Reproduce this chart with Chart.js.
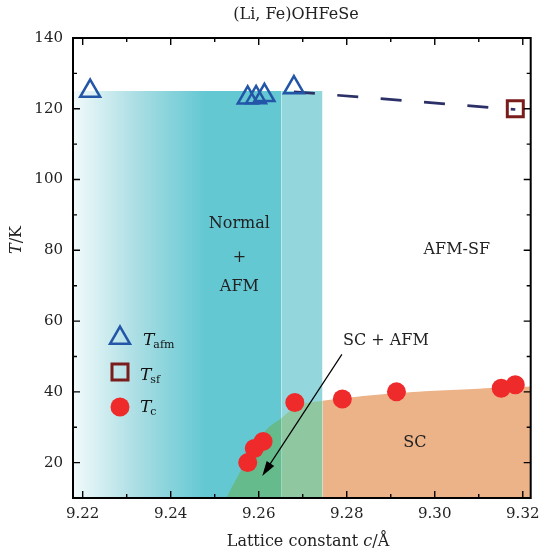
<!DOCTYPE html>
<html>
<head>
<meta charset="utf-8">
<script src="https://cdn.jsdelivr.net/npm/chart.js@4.4.1/dist/chart.umd.min.js"></script>
<style>
  html, body { margin: 0; padding: 0; background: #fff; }
</style>
</head>
<body>
<canvas id="myChart" width="545" height="557"></canvas>
<script>
// ---- data ----
const tafmC = [9.2217, 9.2575, 9.2594, 9.2613, 9.2680];
const tafmT = [125.0, 123.1, 123.2, 123.8, 126.0];

const tsfC = [9.3183];
const tsfT = [120.0];

const tcC = [9.2575, 9.2590, 9.2610, 9.2682, 9.2790, 9.2913, 9.3151, 9.3183];
const tcT = [20.0, 24.0, 26.0, 37.0, 38.0, 40.0, 41.0, 42.0];

// dashed guide from last T_afm to T_sf
const guideC = [9.2680, 9.3183];
const guideT = [124.8, 119.8];

// phase regions (top edge of each filled area)
const afmC = [9.2178, 9.2652];
const afmT = [125, 125];
const bandC = [9.2652, 9.2745];
const bandT = [125, 125];
const scAfmC = [9.2526, 9.2556, 9.2587, 9.2617, 9.2652];
const scAfmT = [10.0, 17.0, 23.5, 29.3, 32.6];
const scAfmBandC = [9.2652, 9.2685, 9.2715, 9.2745];
const scAfmBandT = [32.6, 36.0, 37.0, 37.5];
const scC = [9.2745, 9.2800, 9.2900, 9.3000, 9.3100, 9.3220];
const scT = [37.5, 38.3, 39.5, 40.3, 40.9, 41.5];

const xTicks = [9.22, 9.23, 9.24, 9.25, 9.26, 9.27, 9.28, 9.29, 9.30, 9.31, 9.32];
const yTicks = [10, 20, 30, 40, 50, 60, 70, 80, 90, 100, 110, 120, 130, 140];

const pts = (xs, ys) => xs.map((v, i) => ({ x: v, y: ys[i] }));

const SERIF = '"DejaVu Serif", serif';

function region(label, xs, ys, color, order) {
  return {
    label: label,
    data: pts(xs, ys),
    showLine: true,
    fill: 'start',
    backgroundColor: color,
    borderWidth: 0,
    borderColor: 'rgba(0,0,0,0)',
    pointRadius: 0,
    tension: 0.3,
    order: order,
  };
}

// draws text made of several font runs, centred on cx
function richText(ctx, parts, cx, cy) {
  let w = 0;
  parts.forEach(p => { ctx.font = p.font; w += ctx.measureText(p.t).width; });
  let x = cx - w / 2;
  ctx.textBaseline = 'middle';
  ctx.textAlign = 'left';
  parts.forEach(p => {
    ctx.font = p.font;
    ctx.fillText(p.t, x, cy + (p.dy || 0));
    x += ctx.measureText(p.t).width;
  });
}

const decor = {
  id: 'decor',
  afterDraw(chart) {
    const { ctx, chartArea: a, scales: { x, y } } = chart;
    ctx.save();
    ctx.fillStyle = '#000';
    ctx.strokeStyle = '#000';

    // inward ticks on all four sides
    ctx.lineWidth = 1.4;
    ctx.beginPath();
    xTicks.forEach(v => {
      const px = x.getPixelForValue(v);
      const len = Math.round(v * 100) % 2 === 0 ? 7 : 4;
      ctx.moveTo(px, a.bottom); ctx.lineTo(px, a.bottom - len);
      ctx.moveTo(px, a.top); ctx.lineTo(px, a.top + len);
    });
    yTicks.forEach(v => {
      const py = y.getPixelForValue(v);
      const len = v % 20 === 0 ? 7 : 4;
      ctx.moveTo(a.left, py); ctx.lineTo(a.left + len, py);
      ctx.moveTo(a.right, py); ctx.lineTo(a.right - len, py);
    });
    ctx.stroke();

    ctx.lineWidth = 2;
    ctx.strokeRect(a.left, a.top, a.right - a.left, a.bottom - a.top);

    // annotations
    ctx.fillStyle = '#222';
    ctx.textAlign = 'center';
    ctx.textBaseline = 'middle';
    ctx.font = '16px ' + SERIF;
    const tx = (c, t, s) => ctx.fillText(s, x.getPixelForValue(c), y.getPixelForValue(t));
    tx(9.2556, 87.5, 'Normal');
    tx(9.2556, 78.0, '+');
    tx(9.2556, 69.6, 'AFM');
    tx(9.3050, 80.1, 'AFM-SF');
    tx(9.2955, 25.6, 'SC');
    tx(9.2889, 54.5, 'SC + AFM');

    // arrow to SC + AFM area
    const x0 = x.getPixelForValue(9.2789), y0 = y.getPixelForValue(50.6);
    const x1 = x.getPixelForValue(9.2608), y1 = y.getPixelForValue(16.2);
    const ang = Math.atan2(y1 - y0, x1 - x0);
    ctx.strokeStyle = '#000';
    ctx.lineWidth = 1.2;
    ctx.beginPath();
    ctx.moveTo(x0, y0);
    ctx.lineTo(x1 - 10 * Math.cos(ang), y1 - 10 * Math.sin(ang));
    ctx.stroke();
    ctx.fillStyle = '#000';
    ctx.beginPath();
    ctx.moveTo(x1, y1);
    ctx.lineTo(x1 - 15 * Math.cos(ang) + 4.5 * Math.sin(ang), y1 - 15 * Math.sin(ang) - 4.5 * Math.cos(ang));
    ctx.lineTo(x1 - 15 * Math.cos(ang) - 4.5 * Math.sin(ang), y1 - 15 * Math.sin(ang) + 4.5 * Math.cos(ang));
    ctx.closePath();
    ctx.fill();

    // legend
    const lx = 120;
    ctx.lineWidth = 2.5;
    ctx.strokeStyle = '#2456a8';
    ctx.beginPath();
    const r = 11.5, ly1 = 338;
    ctx.moveTo(lx, ly1 - r);
    ctx.lineTo(lx + r * Math.sin(2 * Math.PI / 3), ly1 + r / 2);
    ctx.lineTo(lx - r * Math.sin(2 * Math.PI / 3), ly1 + r / 2);
    ctx.closePath();
    ctx.stroke();
    ctx.lineWidth = 3;
    ctx.strokeStyle = '#7b1c1c';
    ctx.strokeRect(lx - 8, 372 - 8, 16, 16);
    ctx.fillStyle = '#ee2a2a';
    ctx.beginPath();
    ctx.arc(lx, 407, 9.5, 0, 2 * Math.PI);
    ctx.fill();

    ctx.fillStyle = '#111';
    const it = 'italic 17px ' + SERIF, sub = '11px ' + SERIF;
    const leg = (y0, s, x0) => {
      ctx.textAlign = 'left';
      ctx.textBaseline = 'alphabetic';
      ctx.font = it;
      ctx.fillText('T', x0, y0);
      const w = ctx.measureText('T').width;
      ctx.font = sub;
      ctx.fillText(s, x0 + w - 1, y0 + 3);
    };
    leg(345, 'afm', 143);
    leg(380, 'sf', 140);
    leg(412, 'c', 140);

    // title and axis titles
    ctx.fillStyle = '#222';
    ctx.textAlign = 'center';
    ctx.textBaseline = 'middle';
    ctx.font = '16px ' + SERIF;
    ctx.fillText('(Li, Fe)OHFeSe', 296, 15);
    richText(ctx, [
      { t: 'Lattice constant ', font: '16px ' + SERIF },
      { t: 'c', font: 'italic 16px ' + SERIF },
      { t: '/Å', font: '16px ' + SERIF },
    ], 308, 542);
    ctx.save();
    ctx.translate(17, 240);
    ctx.rotate(-Math.PI / 2);
    richText(ctx, [
      { t: 'T', font: 'italic 16px ' + SERIF },
      { t: '/K', font: '16px ' + SERIF },
    ], 0, 0);
    ctx.restore();
    ctx.restore();
  }
};

const data = {
  datasets: [
    {
      label: 'T_afm',
      data: pts(tafmC, tafmT),
      pointStyle: 'triangle',
      pointRadius: 11.5,
      borderColor: '#2456a8',
      borderWidth: 2.5,
      backgroundColor: 'rgba(0,0,0,0)',
      order: 2,
    },
    {
      label: 'T_sf',
      data: pts(tsfC, tsfT),
      pointStyle: 'rect',
      pointRadius: 11.3,
      borderColor: '#7b1c1c',
      borderWidth: 3,
      backgroundColor: 'rgba(0,0,0,0)',
      order: 1,
    },
    {
      label: 'T_c',
      data: pts(tcC, tcT),
      pointStyle: 'circle',
      pointRadius: 9.5,
      borderWidth: 0,
      backgroundColor: '#ee2a2a',
      order: 0,
    },
    {
      label: 'guide',
      data: pts(guideC, guideT),
      showLine: true,
      borderColor: '#2b3068',
      borderWidth: 2.7,
      borderDash: [21, 22.5],
      pointRadius: 0,
      fill: false,
      order: 3,
    },
    region('SC', scC, scT, '#edb388', 10),
    region('SC+AFM band', scAfmBandC, scAfmBandT, '#8fc8a0', 11),
    region('SC+AFM', scAfmC, scAfmT, '#66bb8d', 12),
    region('AFM band', bandC, bandT, '#93d7dd', 13),
    Object.assign(region('Normal+AFM', afmC, afmT, '#64c8d3', 14), {
      tension: 0,
      backgroundColor: ctx => {
        const ch = ctx.chart;
        const a = ch.chartArea;
        if (!a) return '#64c8d3';
        const g = ch.ctx.createLinearGradient(a.left, 0, ch.scales.x.getPixelForValue(9.2477), 0);
        g.addColorStop(0, '#f2fafb');
        g.addColorStop(0.5, '#a8dde3');
        g.addColorStop(1, '#64c8d3');
        return g;
      },
    }),
  ],
};
data.datasets[7].tension = 0;

const config = {
  type: 'scatter',
  data: data,
  options: {
    responsive: false,
    animation: false,
    events: [],
    layout: { padding: { top: 38, right: 11, left: 0, bottom: 0 } },
    plugins: { legend: { display: false }, tooltip: { enabled: false } },
    scales: {
      x: {
        type: 'linear',
        min: 9.2178,
        max: 9.3218,
        afterBuildTicks: s => { s.ticks = xTicks.map(v => ({ value: v })); },
        afterFit: s => { s.height = 59; s.paddingLeft = 0; s.paddingRight = 0; },
        grid: { display: false, drawTicks: false },
        border: { display: false },
        ticks: {
          padding: 7,
          color: '#222',
          font: { family: SERIF, size: 15 },
          maxRotation: 0,
          autoSkip: false,
          callback: v => (Math.round(v * 100) % 2 === 0 ? v.toFixed(2) : ''),
        },
      },
      y: {
        type: 'linear',
        min: 10,
        max: 140,
        afterBuildTicks: s => { s.ticks = yTicks.map(v => ({ value: v })); },
        afterFit: s => { s.width = 73; s.paddingTop = 0; s.paddingBottom = 0; },
        grid: { display: false, drawTicks: false },
        border: { display: false },
        ticks: {
          padding: 10,
          color: '#222',
          font: { family: SERIF, size: 15 },
          autoSkip: false,
          callback: v => (v % 20 === 0 ? String(v) : ''),
        },
      },
    },
  },
  plugins: [decor],
};

const ctx = document.getElementById('myChart').getContext('2d');
new Chart(ctx, config);
</script>
</body>
</html>
